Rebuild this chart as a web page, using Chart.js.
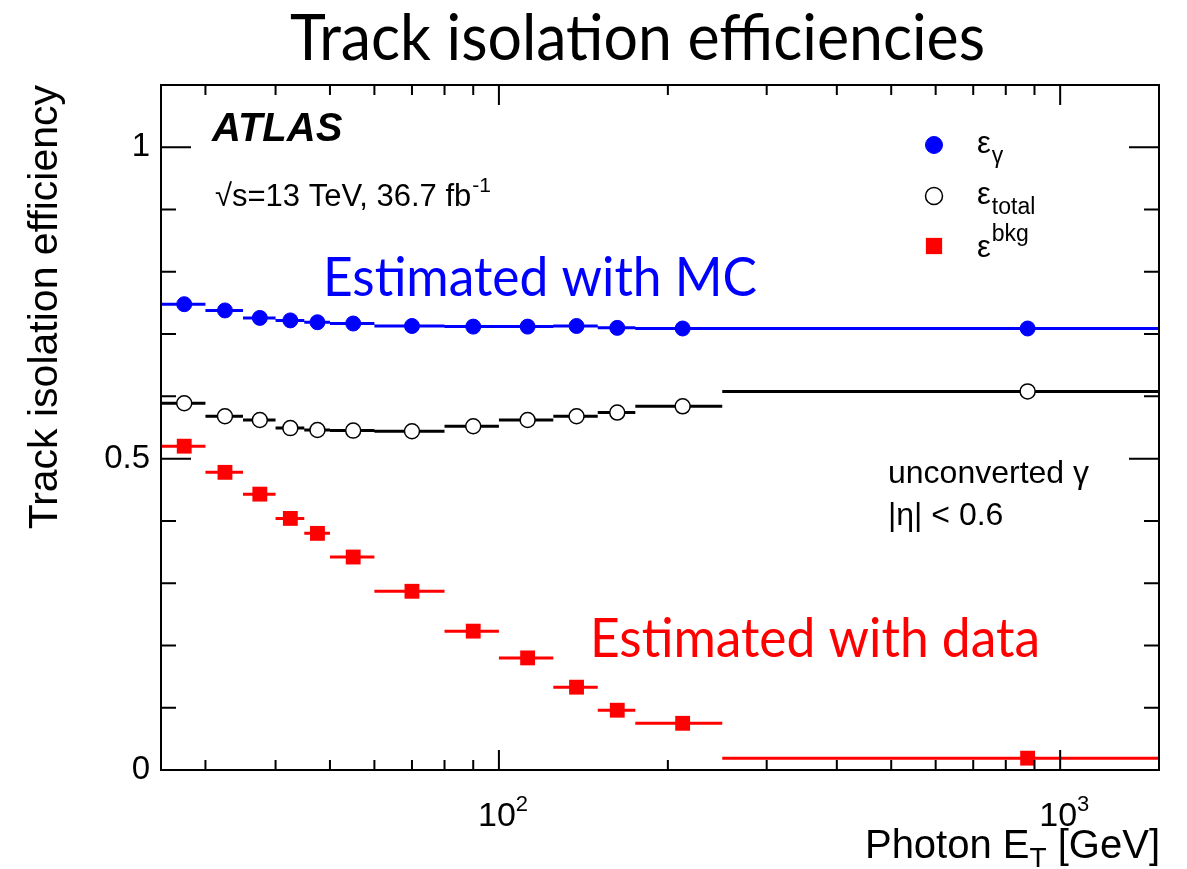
<!DOCTYPE html>
<html>
<head>
<meta charset="utf-8">
<script src="https://cdn.jsdelivr.net/npm/chart.js@4.4.0/dist/chart.umd.min.js"></script>
<style>
  html, body { margin: 0; padding: 0; background: #fff; }
  #contenedor { width: 1187px; height: 869px; position: relative; }
</style>
</head>
<body>
<div id="contenedor"><canvas id="graficoEficiencia"></canvas></div>
<script>
// Bines de E_T del fotón (GeV)
const binLo = [25, 30, 35, 40, 45, 50, 60, 80, 100, 125, 150, 175, 250];
const binHi = [30, 35, 40, 45, 50, 60, 80, 100, 125, 150, 175, 250, 1500];
const etCentro = [27.5, 32.5, 37.5, 42.5, 47.5, 55, 70, 90, 112.5, 137.5, 162.5, 212.5, 875];

// Eficiencias
const effGamma = [0.748, 0.738, 0.726, 0.722, 0.719, 0.717, 0.713, 0.712, 0.712, 0.713, 0.710, 0.709, 0.709];
const effTotal = [0.589, 0.568, 0.562, 0.549, 0.546, 0.545, 0.544, 0.552, 0.562, 0.568, 0.574, 0.584, 0.608];
const effBkg = [0.520, 0.478, 0.443, 0.404, 0.380, 0.342, 0.287, 0.223, 0.180, 0.133, 0.096, 0.075, 0.019];

// Marcas de los ejes
const xTicks = [30, 40, 50, 60, 70, 80, 90, 100, 200, 300, 400, 500, 600, 700, 800, 900, 1000];
const yTicks = [0, 0.1, 0.2, 0.3, 0.4, 0.5, 0.6, 0.7, 0.8, 0.9, 1.0];

const AZUL = "#0000ff";
const ROJO = "#ff0000";
const SANS = "'Liberation Sans', Arial, Helvetica, sans-serif";
const CMSANS = "Lato, 'Open Sans', sans-serif";

// barras horizontales = ancho del bin
function barras(vals) {
  const pts = [];
  vals.forEach((v, i) => {
    pts.push({ x: binLo[i], y: v }, { x: binHi[i], y: v }, { x: binHi[i], y: null });
  });
  return pts;
}
function puntos(vals) {
  return vals.map((v, i) => ({ x: etCentro[i], y: v }));
}

function textoAjustado(ctx, txt, x, y, size, family, color, ancho) {
  ctx.save();
  ctx.font = size + "px " + family;
  const w = ctx.measureText(txt).width;
  ctx.translate(x, y);
  ctx.scale(ancho / w, 1);
  ctx.fillStyle = color;
  ctx.textAlign = "left";
  ctx.textBaseline = "alphabetic";
  ctx.fillText(txt, 0, 0);
  ctx.restore();
}

function texto(ctx, txt, x, y, font, align) {
  ctx.font = font;
  ctx.textAlign = align || "left";
  ctx.fillText(txt, x, y);
  return ctx.measureText(txt).width;
}

const marcoYTextos = {
  id: "marcoYTextos",
  afterDraw(chart) {
    const { ctx, chartArea: a, scales } = chart;
    ctx.save();
    ctx.strokeStyle = "#000";
    ctx.fillStyle = "#000";
    ctx.lineWidth = 2;
    ctx.strokeRect(a.left, a.top, a.right - a.left, a.bottom - a.top);

    // marcas hacia adentro + etiquetas 10^n
    ctx.beginPath();
    ctx.textBaseline = "alphabetic";
    scales.x.ticks.forEach(t => {
      const px = scales.x.getPixelForValue(t.value);
      const lg = Math.log10(t.value);
      const mayor = Math.abs(lg - Math.round(lg)) < 1e-9;
      const len = mayor ? 20 : 10;
      ctx.moveTo(px, a.bottom); ctx.lineTo(px, a.bottom - len);
      ctx.moveTo(px, a.top); ctx.lineTo(px, a.top + len);
      if (mayor) {
        const w10 = texto(ctx, "10", px - 2, a.bottom + 56, "34px " + SANS, "center");
        texto(ctx, String(Math.round(lg)), px - 2 + w10 / 2, a.bottom + 41, "22px " + SANS);
      }
    });
    scales.y.ticks.forEach(t => {
      if (t.value === 0) return;
      const py = scales.y.getPixelForValue(t.value);
      const len = Math.abs(t.value * 2 - Math.round(t.value * 2)) < 1e-9 ? 30 : 15;
      ctx.moveTo(a.left, py); ctx.lineTo(a.left + len, py);
      ctx.moveTo(a.right, py); ctx.lineTo(a.right - len, py);
    });
    ctx.stroke();

    // título y anotaciones
    textoAjustado(ctx, "Track isolation efficiencies", 290, 60, 64, CMSANS, "#000", 695);
    textoAjustado(ctx, "Estimated with MC", 323, 296, 54, CMSANS, AZUL, 434);
    textoAjustado(ctx, "Estimated with data", 590, 657, 54, CMSANS, ROJO, 450);

    ctx.fillStyle = "#000";
    texto(ctx, "ATLAS", 212, 141, "italic bold 40px " + SANS);
    let w = texto(ctx, "\u221As=13 TeV, 36.7 fb", 215, 206, "31px " + SANS);
    texto(ctx, "-1", 215 + w + 1, 192, "21px " + SANS);

    texto(ctx, "unconverted \u03B3", 888, 483, "32px " + SANS);
    texto(ctx, "|\u03B7| < 0.6", 888, 525, "32px " + SANS);

    // título del eje x con subíndice
    const f1 = "40px " + SANS, f2 = "28px " + SANS;
    ctx.font = f1;
    const wa = ctx.measureText("Photon E").width;
    const wc = ctx.measureText(" [GeV]").width;
    ctx.font = f2;
    const wb = ctx.measureText("T").width;
    let x0 = a.right + 1 - (wa + wb + wc);
    texto(ctx, "Photon E", x0, 858, f1);
    texto(ctx, "T", x0 + wa, 867, f2);
    texto(ctx, " [GeV]", x0 + wa + wb, 858, f1);

    // leyenda
    const ds = chart.data.datasets;
    const filas = [
      { d: ds[3], y: 145, sub: "\u03B3", tipo: "sub" },
      { d: ds[4], y: 196, sub: "total", tipo: "sub" },
      { d: ds[5], y: 246, sub: "bkg", tipo: "sup" }
    ];
    filas.forEach(f => {
      ctx.fillStyle = f.d.backgroundColor;
      ctx.strokeStyle = f.d.borderColor;
      ctx.lineWidth = f.d.borderWidth;
      Chart.helpers.drawPoint(ctx, {
        pointStyle: f.d.pointStyle, radius: f.d.pointRadius + 1, rotation: 0, borderWidth: f.d.borderWidth
      }, 934, f.y);
      ctx.fillStyle = "#000";
      const we = texto(ctx, "\u03B5", 977, f.y + (f.tipo === "sup" ? 11 : 8), "31px " + SANS);
      if (f.tipo === "sub") {
        texto(ctx, f.sub, 977 + we + 1, f.y + 18, "23px " + SANS);
      } else {
        texto(ctx, f.sub, 977 + we + 1, f.y - 5, "23px " + SANS);
      }
    });
    ctx.restore();
  }
};

const ctxEff = document.getElementById("graficoEficiencia");
new Chart(ctxEff, {
  type: "scatter",
  data: {
    datasets: [
      { label: "bkg barras", data: barras(effBkg), showLine: true, spanGaps: false, borderColor: ROJO, borderWidth: 3, pointRadius: 0, order: 2 },
      { label: "total barras", data: barras(effTotal), showLine: true, spanGaps: false, borderColor: "#000", borderWidth: 3, pointRadius: 0, order: 2 },
      { label: "gamma barras", data: barras(effGamma), showLine: true, spanGaps: false, borderColor: AZUL, borderWidth: 3, pointRadius: 0, order: 2 },
      { label: "\u03B5\u03B3", data: puntos(effGamma), pointStyle: "circle", pointRadius: 7.5, backgroundColor: AZUL, borderColor: AZUL, borderWidth: 1, order: 1 },
      { label: "\u03B5 total", data: puntos(effTotal), pointStyle: "circle", pointRadius: 7.5, backgroundColor: "#fff", borderColor: "#000", borderWidth: 1.5, order: 1 },
      { label: "\u03B5 bkg", data: puntos(effBkg), pointStyle: "rect", pointRadius: 10.5, backgroundColor: ROJO, borderColor: ROJO, borderWidth: 0, order: 1 }
    ]
  },
  options: {
    responsive: true,
    maintainAspectRatio: false,
    animation: false,
    layout: { padding: { top: 85, right: 28, left: 0, bottom: 0 } },
    plugins: { legend: { display: false }, tooltip: { enabled: false } },
    scales: {
      x: {
        type: "logarithmic",
        min: 25,
        max: 1500,
        grid: { display: false, drawTicks: false },
        border: { display: false },
        afterBuildTicks: s => { s.ticks = xTicks.map(v => ({ value: v })); },
        afterFit: s => { s.height = 99; },
        ticks: { display: false, autoSkip: false, maxRotation: 0 }
      },
      y: {
        type: "linear",
        min: 0,
        max: 1.1,
        grid: { display: false, drawTicks: false },
        border: { display: false },
        afterBuildTicks: s => { s.ticks = yTicks.map(v => ({ value: v })); },
        afterFit: s => { s.width = 161; },
        ticks: {
          padding: 11,
          color: "#000",
          font: { family: SANS, size: 33 },
          callback: v => (Math.abs(v * 2 - Math.round(v * 2)) < 1e-9 ? String(+v.toFixed(1)) : "")
        },
        title: {
          display: true,
          text: "Track isolation efficiency",
          align: "end",
          color: "#000",
          font: { family: SANS, size: 41 },
          padding: { top: 21, bottom: 0 }
        }
      }
    }
  },
  plugins: [marcoYTextos]
});
</script>
</body>
</html>
